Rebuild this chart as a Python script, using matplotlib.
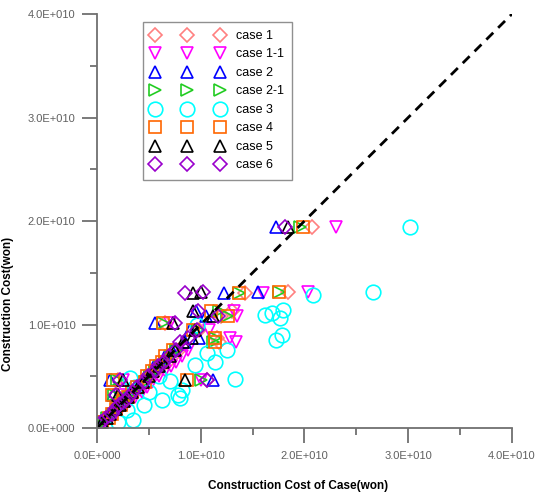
import numpy as np
import matplotlib
matplotlib.use('Agg')
import matplotlib.pyplot as plt
import matplotlib.ticker as ticker

plt.rcParams['font.family'] = ['Liberation Sans', 'DejaVu Sans']

# actual construction cost of each project (1e9 won), shared by cases 1..6 except case 3
project_cost = [19.4, 13.1, 13.0, 11.3, 10.8, 10.1, 8.7, 8.3, 4.6, 4.6, 3.2,
                0.6, 1.0, 1.4, 1.8, 2.2, 2.6, 3.0, 3.5, 4.0, 4.4, 5.0, 5.5,
                6.0, 6.4, 7.0, 7.5, 9.5]

case1_x = [20.7, 18.4, 14.3, 13.0, 12.0, 6.6, 11.6, 11.8, 10.6, 2.0, 1.7,
           0.7, 1.1, 1.5, 2.0, 2.4, 2.8, 3.2, 3.7, 4.2, 4.7, 5.3, 5.8,
           6.3, 6.8, 7.3, 7.9, 9.8]
case1_1_x = [23.0, 20.3, 16.0, 13.2, 13.5, 7.0, 12.8, 13.4, 10.0, 2.5, 2.2,
             0.9, 1.3, 1.8, 2.3, 2.8, 3.2, 3.7, 4.3, 4.8, 5.3, 6.0, 6.6,
             7.1, 7.6, 8.2, 8.8, 10.8]
case2_x = [17.3, 15.5, 12.2, 9.5, 10.5, 5.6, 9.8, 8.5, 11.2, 1.3, 1.5,
           0.5, 0.9, 1.3, 1.6, 2.0, 2.5, 2.8, 3.3, 3.8, 4.5, 4.6, 5.2,
           5.5, 6.2, 6.6, 7.2, 9.0]
case2_1_x = [19.6, 17.5, 13.7, 11.8, 12.5, 6.4, 11.4, 11.2, 10.0, 1.9, 1.6,
             0.7, 1.0, 1.5, 1.9, 2.3, 2.7, 3.1, 3.6, 4.1, 4.6, 5.1, 5.6,
             6.1, 6.6, 7.1, 7.6, 9.7]
case4_x = [19.9, 17.5, 13.7, 11.0, 12.6, 6.4, 11.4, 11.4, 8.7, 1.5, 1.4,
           0.5, 1.2, 1.4, 1.8, 2.3, 2.5, 3.0, 3.4, 3.9, 4.6, 4.8, 5.3,
           5.7, 6.3, 6.6, 7.3, 9.3]
case5_x = [18.4, 10.0, 9.3, 9.3, 11.2, 7.3, 9.2, 8.3, 8.5, 2.5, 2.0,
           0.5, 1.0, 1.3, 1.8, 2.2, 2.6, 3.0, 3.4, 4.0, 4.4, 5.0, 5.4,
           6.0, 6.4, 7.0, 7.5, 9.4]
case6_x = [18.1, 10.2, 8.5, 9.7, 11.7, 7.5, 8.8, 8.0, 10.6, 2.2, 1.8,
           0.4, 0.9, 1.4, 1.7, 2.1, 2.7, 3.1, 3.5, 3.9, 4.5, 4.9, 5.6,
           5.9, 6.5, 6.9, 7.6, 9.6]

# case 3 scatters on its own
case3_x = [30.2, 26.6, 20.8, 16.2, 16.9, 17.9, 17.6, 17.3, 17.8, 12.5, 11.4,
           10.6, 13.3, 9.4, 9.6, 8.0, 7.8, 8.2, 6.3, 3.2, 3.7, 2.9, 3.5,
           5.0, 4.5, 2.0, 6.0, 7.0]
case3_y = [19.4, 13.1, 12.9, 10.9, 11.1, 11.4, 10.6, 8.5, 9.0, 7.5, 6.4,
           7.2, 4.7, 6.1, 10.0, 2.9, 3.2, 3.7, 2.7, 4.8, 4.0, 1.7, 0.8,
           3.5, 2.2, 0.6, 5.0, 4.5]

case_labels = ['case 1', 'case 1-1', 'case 2', 'case 2-1',
               'case 3', 'case 4', 'case 5', 'case 6']

unit = 1e9
series = [
    (case1_x, project_cost, 'D', '#FF8080', 7),
    (case1_1_x, project_cost, 'v', '#FF00FF', 9),
    (case2_x, project_cost, '^', '#0000FF', 9),
    (case2_1_x, project_cost, '>', '#22CC22', 9),
    (case3_x, case3_y, 'o', '#00FFFF', 10.5),
    (case4_x, project_cost, 's', '#FF6600', 9),
    (case5_x, project_cost, '^', '#000000', 9),
    (case6_x, project_cost, 'D', '#9900CC', 7),
]


def sci_fmt(v, pos):
    if v == 0:
        return '0.0E+000'
    e = int(np.floor(np.log10(abs(v))))
    return f'{v / 10**e:.1f}E+{e:03d}'


fig = plt.figure(figsize=(5.37, 4.93), dpi=100)
ax = fig.add_axes([0.1806, 0.1318, 0.7728, 0.8398])

for (xs, ys, mk, col, ms), lbl in zip(series, case_labels):
    ax.plot(np.array(xs) * unit, np.array(ys) * unit, linestyle='None',
            marker=mk, markersize=ms, markerfacecolor='none',
            markeredgecolor=col, markeredgewidth=1.2, label=lbl)

ax.plot([0, 4e10], [0, 4e10], color='black', linestyle=(0, (3.5, 2.5)),
        linewidth=2)

ax.set_xlim(0, 4e10)
ax.set_ylim(0, 4e10)
ax.xaxis.set_major_locator(ticker.MultipleLocator(1e10))
ax.yaxis.set_major_locator(ticker.MultipleLocator(1e10))
ax.xaxis.set_minor_locator(ticker.MultipleLocator(5e9))
ax.yaxis.set_minor_locator(ticker.MultipleLocator(5e9))
ax.xaxis.set_major_formatter(ticker.FuncFormatter(sci_fmt))
ax.yaxis.set_major_formatter(ticker.FuncFormatter(sci_fmt))

grey = '#707070'
for s in ['top', 'right']:
    ax.spines[s].set_visible(False)
for s in ['left', 'bottom']:
    ax.spines[s].set_color(grey)
    ax.spines[s].set_linewidth(1.3)
ax.tick_params(which='major', length=10.5, width=1.3, color=grey,
               labelcolor='#606060', labelsize=8)
ax.tick_params(which='minor', length=5, width=1.3, color=grey)
ax.tick_params(axis='x', which='major', pad=6)
ax.tick_params(axis='y', which='major', pad=5)

ax.set_xlabel('Construction Cost of Case(won)', fontsize=8.5,
              fontweight='bold')
ax.set_ylabel('Construction Cost(won)', fontsize=8.5, fontweight='bold')
ax.xaxis.set_label_coords(0.485, -0.125)
ax.yaxis.set_label_coords(-0.2, 0.30)

leg = ax.legend(loc='upper left', bbox_to_anchor=(0.111, 0.981),
                borderaxespad=0, numpoints=3, fontsize=9, handlelength=5.8,
                labelspacing=0.52, handletextpad=0.95, fancybox=False,
                framealpha=1, borderpad=0.65)
leg.get_frame().set_edgecolor('#909090')
leg.get_frame().set_linewidth(1.0)

fig.savefig('out.png', dpi=100)
